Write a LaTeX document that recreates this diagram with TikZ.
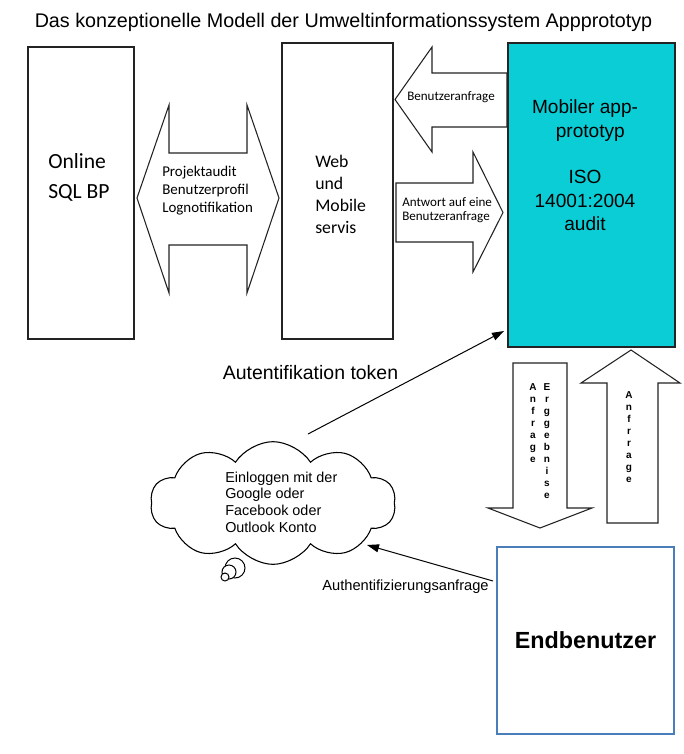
\documentclass[tikz,border=0pt]{standalone}
\usepackage{fontspec}
\setmainfont{Liberation Sans}
\newfontfamily\calibri{Carlito}
\usetikzlibrary{shapes.symbols,arrows.meta}
\definecolor{cyanfill}{RGB}{11,205,214}
\definecolor{endblue}{RGB}{74,126,187}
\definecolor{linegray}{RGB}{35,35,35}
\tikzset{
  box/.style={draw=linegray, line width=0.9pt, fill=white, inner sep=0pt, outer sep=0pt},
  blockarrow/.style={draw=linegray, line width=0.8pt, fill=white, line join=miter},
  cal/.style={font=\calibri, inner sep=0pt, align=left},
  ari/.style={inner sep=0pt},
  vletters/.style={font=\fontsize{7.5}{9}\selectfont\bfseries, align=center, inner sep=0pt},
  conn/.style={draw=black, line width=0.75pt, -{Triangle[length=9pt,width=6pt]}}
}
\begin{document}
\begin{tikzpicture}[x=0.75pt,y=-0.75pt]
\useasboundingbox (0,0) rectangle (683,754);

% title
\node[ari, font=\fontsize{14.8}{17}\selectfont] (title) at (343.5,22) {Das konzeptionelle Modell der Umweltinformationssystem Appprototyp};

% main boxes
\node[box, minimum width=79.5pt, minimum height=219pt] (sql) at (81,193) {};
\node[box, minimum width=83.25pt, minimum height=222pt] (web) at (337.5,191) {};

% double arrow between SQL and web
\draw[blockarrow] (137,198) -- (169,105) -- (169,153) -- (247,153) -- (247,105) -- (279,198)
  -- (247,293) -- (247,245) -- (169,245) -- (169,293) -- cycle;

% arrows between web and mobile
\draw[blockarrow] (395,99.5) -- (432,47) -- (432,73) -- (507,73) -- (507,127) -- (432,127) -- (432,152) -- cycle;
\draw[blockarrow] (396,183) -- (473,183) -- (473,152) -- (503,212.5) -- (473,272) -- (473,242) -- (396,242) -- cycle;

\node[box, fill=cyanfill, minimum width=125.25pt, minimum height=228pt] (mob) at (591.5,195) {};
\node[box, draw=endblue, line width=1.2pt, minimum width=132.75pt, minimum height=140.25pt,
  font=\fontsize{17.5}{20}\selectfont\bfseries] (end) at (585.5,640.5) {Endbenutzer};

% vertical arrows
\draw[blockarrow] (513,363) -- (567,363) -- (567,508) -- (592,508) -- (540,528) -- (488,508) -- (513,508) -- cycle;
\draw[blockarrow] (631,350) -- (680,383) -- (658,383) -- (658,523) -- (607,523) -- (607,383) -- (581,383) -- cycle;

% texts
\node[cal, anchor=west, font=\calibri\fontsize{16.2}{22.5}\selectfont] (sqltxt) at (48,177) {Online\\SQL BP};
\node[cal, anchor=west, font=\calibri\fontsize{11.2}{13.5}\selectfont] (dbltxt) at (162,191) {Projektaudit\\Benutzerprofil\\Lognotifikation};
\node[cal, anchor=west, font=\calibri\fontsize{13.3}{16.3}\selectfont] (webtxt) at (315,194.5) {Web\\und\\Mobile\\servis};
\node[cal, anchor=west, font=\calibri\fontsize{9.8}{10.5}\selectfont] (reqtxt) at (407,97) {Benutzeranfrage};
\node[cal, anchor=west, font=\calibri\fontsize{9.8}{10.5}\selectfont] (anstxt) at (402,210) {Antwort auf eine\\Benutzeranfrage};
\node[ari, align=center, font=\fontsize{14.3}{17.5}\selectfont] (mobtxt) at (585,165.5) {Mobiler app-\\\ \ prototyp\\[17.5pt]ISO\\14001:2004\ \ \\audit};

\node[vletters] (v1) at (533,423) {A\\n\\f\\r\\a\\g\\e};
\node[vletters] (v2) at (547,441) {E\\r\\g\\g\\e\\b\\n\\i\\s\\e};
\node[vletters] (v3) at (629,437) {A\\n\\f\\r\\r\\a\\g\\e};

% cloud
\node[cloud, cloud puffs=10, cloud puff arc=115, cloud ignores aspect, draw=black, line width=0.8pt, fill=white,
  minimum width=184pt, minimum height=92pt, inner sep=0pt] (cloud) at (273,503) {};
\node[ari, anchor=west, align=left, font=\fontsize{10.8}{12.5}\selectfont] (cloudtxt) at (225,502) {Einloggen mit der\\Google oder\\Facebook oder\\Outlook Konto};
\draw[black, line width=0.75pt, fill=white] (235,568) circle[radius=7.5pt];
\draw[black, line width=0.75pt, fill=white] (229,572) circle[radius=5.25pt];
\draw[black, line width=0.75pt, fill=white] (225,577) circle[radius=3pt];

% connectors
\coordinate (tokstart) at (308,434);
\coordinate (tokend) at (504,331);
\draw[conn] (tokstart) -- (tokend);
\node[ari, font=\fontsize{14.6}{17}\selectfont] (toktxt) at (310.5,373) {Autentifikation token};

\coordinate (authstart) at (493,581);
\coordinate (authend) at (367,545);
\draw[conn] (authstart) -- (authend);
\node[ari, font=\fontsize{11}{13}\selectfont] (authtxt) at (405.5,587) {Authentifizierungsanfrage};
\end{tikzpicture}
\end{document}
